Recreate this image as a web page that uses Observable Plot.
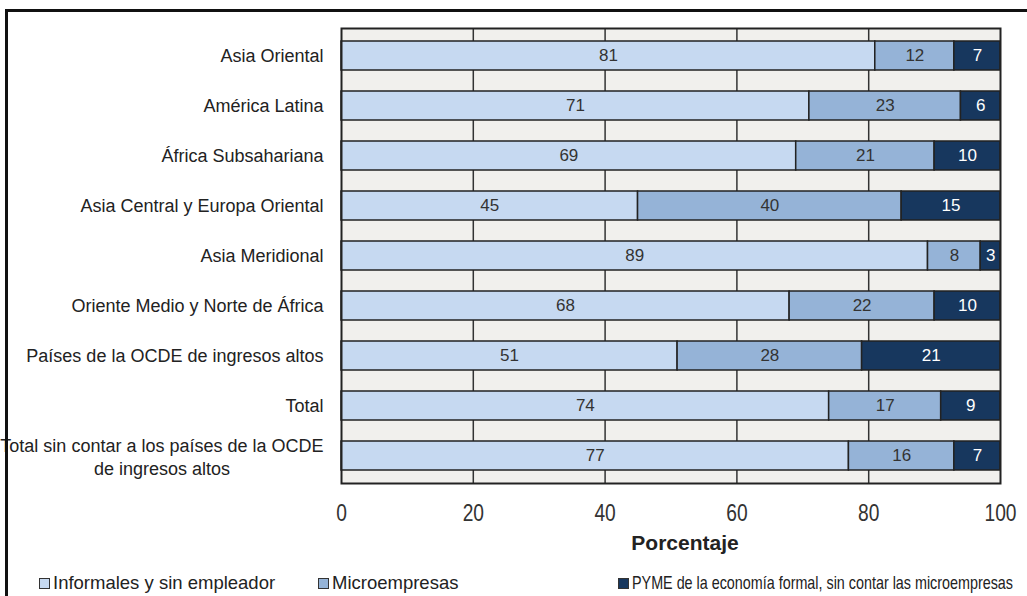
<!DOCTYPE html>
<html lang="es">
<head>
<meta charset="utf-8">
<script src="https://cdn.jsdelivr.net/npm/d3@7"></script>
<script src="https://cdn.jsdelivr.net/npm/@observablehq/plot@0.6"></script>
<style>
  html, body { margin: 0; padding: 0; background: #fff; }
  #wrap { position: relative; width: 1027px; height: 596px; overflow: hidden; }
  #border { position: absolute; left: 5px; top: 9px; right: -10px; bottom: -10px;
            border-top: 3px solid #111; border-left: 3px solid #111; pointer-events: none; }
  #legend { position: absolute; left: 0; top: 571px; width: 1027px; height: 24px;
            font-family: "Liberation Sans", Arial, sans-serif; font-size: 18.5px; color: #222; }
  .item { position: absolute; top: 0; height: 24px; display: flex; align-items: center; white-space: nowrap; }
  .sw { width: 9px; height: 9px; border: 1px solid #333; margin-right: 3px; flex: none; }
  .lab { display: inline-block; transform-origin: 0 50%; }
</style>
</head>
<body>
<div id="wrap">
  <div id="chart"></div>
  <div id="legend"></div>
  <div id="border"></div>
</div>
<script>
// Regions (rows, top to bottom)
const regions = [
  "Asia Oriental",
  "América Latina",
  "África Subsahariana",
  "Asia Central y Europa Oriental",
  "Asia Meridional",
  "Oriente Medio y Norte de África",
  "Países de la OCDE de ingresos altos",
  "Total",
  "Total sin contar a los países de la OCDE\nde ingresos altos"
];

// Share of employment (%), by firm category
const informales = [81, 71, 69, 45, 89, 68, 51, 74, 77];
const microempresas = [12, 23, 21, 40, 8, 22, 28, 17, 16];
const pyme = [7, 6, 10, 15, 3, 10, 21, 9, 7];

const seriesNames = [
  "Informales y sin empleador",
  "Microempresas",
  "PYME de la economía formal, sin contar las microempresas"
];
const seriesColors = ["#c6d9f1", "#95b3d7", "#17375e"];
const xTicks = [0, 20, 40, 60, 80, 100];

const seriesValues = [informales, microempresas, pyme];
const rows = [];
seriesNames.forEach((s, si) => {
  regions.forEach((r, ri) => rows.push({region: r, series: s, value: seriesValues[si][ri]}));
});

const regular = "'Liberation Sans', Arial, sans-serif";

// width of the first line of the two-line label, to centre both lines
const ctx = document.createElement("canvas").getContext("2d");
ctx.font = "18px 'Liberation Sans'";
const twoLine = regions.filter(d => d.includes("\n"));
const firstW = ctx.measureText(twoLine[0].split("\n")[0]).width;

const chart = Plot.plot({
  width: 1027,
  height: 560,
  marginLeft: 341,
  marginRight: 27,
  marginTop: 28,
  marginBottom: 77,
  style: {fontFamily: regular, color: "#222", background: "transparent"},
  x: {domain: [0, 100]},
  y: {domain: regions, paddingInner: 0.42, paddingOuter: 0.23},
  color: {domain: seriesNames, range: seriesColors},
  marks: [
    Plot.frame({fill: "#f1f0ed"}),
    Plot.ruleX(xTicks.filter(t => t > 0 && t < 100), {stroke: "#333", strokeWidth: 1.5}),
    Plot.barX(rows, Plot.stackX({
      x: "value", y: "region", fill: "series", order: seriesNames,
      stroke: "#222", strokeWidth: 1.5
    })),
    Plot.text(rows, Plot.stackX({
      x: "value", y: "region", z: "series", order: seriesNames, text: "value",
      fill: d => d.series === seriesNames[2] ? "#fff" : "#333",
      fontSize: 17, ariaLabel: "bar value"
    })),
    Plot.frame({stroke: "#222", strokeWidth: 2}),
    Plot.axisX({ticks: xTicks, tickSize: 0, tickPadding: 20, fontSize: 24,
      fill: "#333", label: null}),
    Plot.axisY({tickSize: 0, tickPadding: 18, fontSize: 18, fill: "#222", label: null,
      tickFormat: d => d.includes("\n") ? "" : d}),
    Plot.text(twoLine, {
      y: d => d, text: d => d, frameAnchor: "left", textAnchor: "middle",
      dx: -(18 + firstW / 2), fontSize: 18, lineHeight: 1.3, fill: "#222"
    }),
    Plot.text(["Porcentaje"], {
      text: d => d, frameAnchor: "bottom", dy: 66, dx: 14,
      fontSize: 21, fontWeight: "bold", fill: "#222"
    })
  ]
});

// condensed look for the numeric labels (no narrow face is installed)
function condense(svg, label, k) {
  svg.querySelectorAll(`g[aria-label="${label}"] text`).forEach(t => {
    const tr = t.getAttribute("transform");
    if (tr) {
      t.setAttribute("transform", `${tr} scale(${k},1)`);
    } else {
      const x = +t.getAttribute("x") || 0, y = +t.getAttribute("y") || 0;
      t.removeAttribute("x"); t.removeAttribute("y");
      t.setAttribute("transform", `translate(${x},${y}) scale(${k},1)`);
    }
  });
}
condense(chart, "x-axis tick label", 0.8);
condense(chart, "bar value", 0.85);

document.getElementById("chart").append(chart);

// Legend below the chart
const legendLeft = [39, 318, 618];
const legendRight = [null, null, 1012];
const legend = document.getElementById("legend");
seriesNames.forEach((s, i) => {
  const item = document.createElement("div");
  item.className = "item";
  item.style.left = legendLeft[i] + "px";
  const sw = document.createElement("span");
  sw.className = "sw";
  sw.style.background = seriesColors[i];
  const label = document.createElement("span");
  label.className = "lab";
  label.textContent = s;
  item.append(sw, label);
  legend.append(item);
  if (legendRight[i] != null) {
    const w = label.getBoundingClientRect().width;
    const avail = legendRight[i] - (legendLeft[i] + 13);
    if (w > avail) label.style.transform = `scaleX(${avail / w})`;
  }
});
</script>
</body>
</html>
